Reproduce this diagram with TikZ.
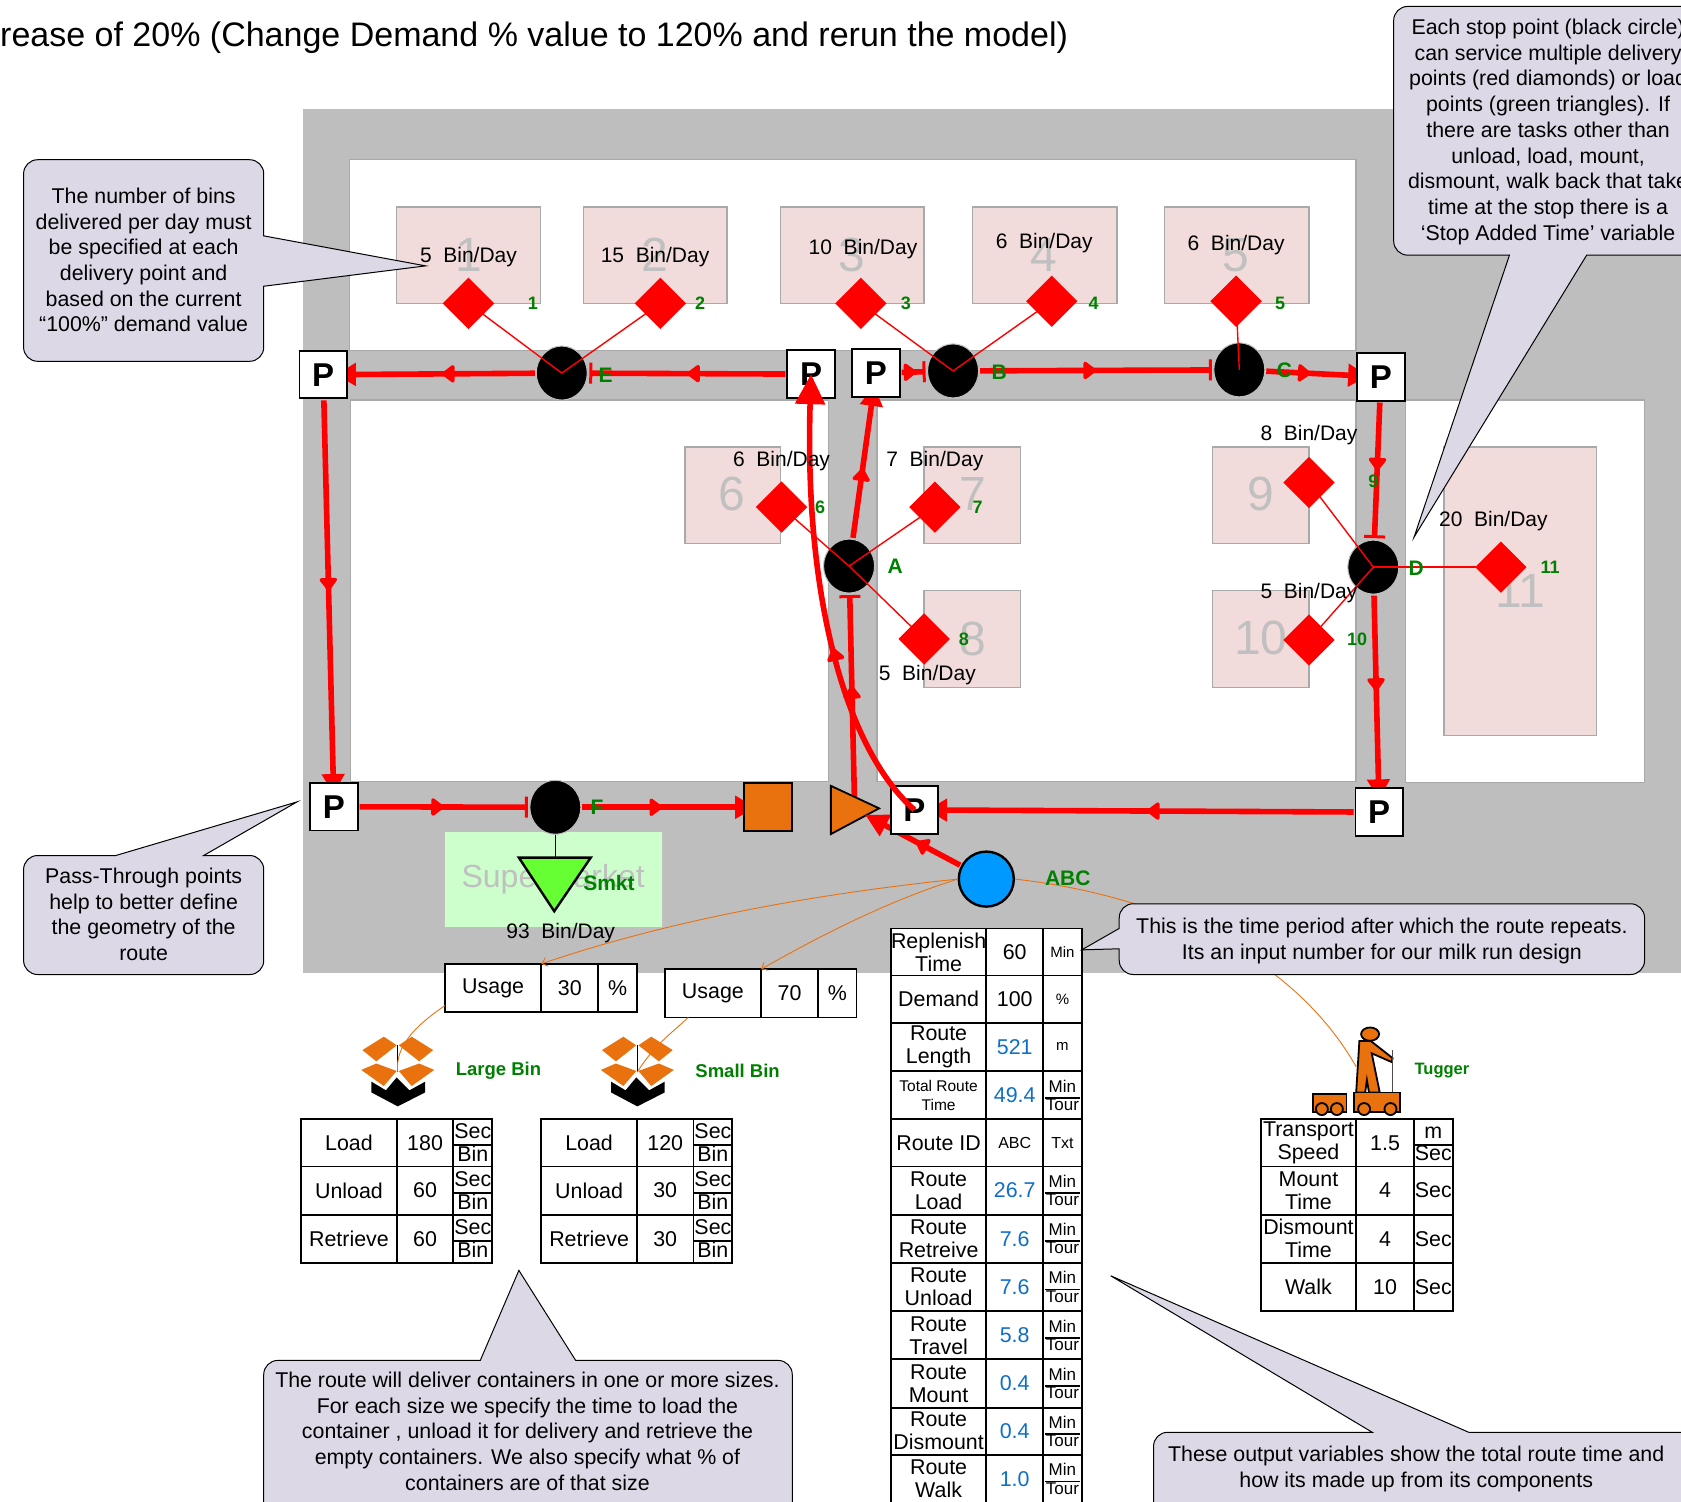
\documentclass[tikz,border=0pt]{standalone}
\usepackage{fontspec}
\setmainfont{Liberation Sans}
\usetikzlibrary{shapes.geometric,arrows.meta,decorations.markings}
\definecolor{panelgray}{HTML}{BEBEBE}
\definecolor{edgegray}{HTML}{A9A9A9}
\definecolor{pinkbox}{HTML}{F2DCDB}
\definecolor{numgray}{HTML}{C0C0C0}
\definecolor{smktfill}{HTML}{CCFFCC}
\definecolor{lblgreen}{HTML}{008000}
\definecolor{orangeb}{HTML}{E9720F}
\definecolor{calloutfill}{HTML}{DCD8E6}
\definecolor{vblue}{HTML}{0F6FC6}
\definecolor{abcblue}{HTML}{0099FF}
\definecolor{smktgreen}{HTML}{66FF33}
\pgfdeclarelayer{bgl}\pgfdeclarelayer{routes}\pgfdeclarelayer{top}\pgfdeclarelayer{lab}
\pgfsetlayers{bgl,routes,main,top,lab}
\newcommand\myfs[1]{\fontsize{#1}{#1}\selectfont}
\newcommand\bv[1]{{\color{vblue}#1}}
\newcommand\ufrac[3]{\fontsize{#1}{#1}\selectfont\setlength\arrayrulewidth{1.8pt}\renewcommand\arraystretch{0.92}\setlength\tabcolsep{1pt}\raisebox{-.13em}[\height][\depth]{\begin{tabular}{c}#2\\\hline #3\end{tabular}}}
\newcommand\mintour{\ufrac{17}{Min}{Tour}}
\newcommand\secbin{\ufrac{21.4}{Sec}{Bin}}
\newcommand\trow[6]{%
 \node[cellbox,minimum width={(\ca-\cz)*1.072pt},minimum height={(#3-#2)*1.072pt}] (#1-l) at ({(\cz+\ca)/2},{(#2+#3)/2}) {#4};
 \node[cellbox,minimum width={(\cy-\ca)*1.072pt},minimum height={(#3-#2)*1.072pt}] (#1-v) at ({(\ca+\cy)/2},{(#2+#3)/2}) {#5};
 \node[cellbox,minimum width={(\cx-\cy)*1.072pt},minimum height={(#3-#2)*1.072pt}] (#1-u) at ({(\cy+\cx)/2},{(#2+#3)/2}) {#6};}
\newcommand\pinkb[4]{\node[pinkcell,minimum width={(#3-#1)*1.072pt},minimum height={(#4-#2)*1.072pt}] at ({(#1+#3)/2},{(#2+#4)/2}) {};}
\tikzset{
 cellbox/.style={draw=black,line width=1.8pt,fill=white,inner sep=0pt,outer sep=0pt,align=center,font=\fontsize{21.4}{23}\selectfont},
 pinkcell/.style={draw=edgegray,line width=1.4pt,fill=pinkbox,inner sep=0pt},
 panelbox/.style={draw=edgegray,line width=1.4pt,fill=white},
 ptnode/.style={draw=black,line width=1.9pt,fill=white,minimum size=47.5pt,inner sep=0pt,font=\fontsize{33}{33}\selectfont\bfseries},
 stopnode/.style={ellipse,draw=black!25,line width=1pt,fill=black,minimum width=51pt,minimum height=54pt,inner sep=0pt},
 dia/.style={diamond,fill=red,minimum width=51.5pt,minimum height=51.5pt,inner sep=0pt,aspect=1},
 grn/.style={text=lblgreen,font=\fontsize{21}{21}\selectfont\bfseries,inner sep=0pt},
 grnsmall/.style={text=lblgreen,font=\fontsize{18}{18}\selectfont\bfseries,inner sep=0pt},
 grntug/.style={text=lblgreen,font=\fontsize{16.5}{16.5}\selectfont\bfseries,inner sep=0pt},
 grnbin/.style={text=lblgreen,font=\fontsize{18.5}{18.5}\selectfont\bfseries,inner sep=0pt},
 numlab/.style={text=numgray,font=\fontsize{48}{48}\selectfont,inner sep=0pt},
 rate/.style={font=\fontsize{21}{21}\selectfont,inner sep=0pt},
 route/.style={draw=red,line width=5.6pt},
 midtip/.style={postaction={decorate,decoration={markings,mark=at position #1 with {\arrow{Triangle[length=14pt,width=20pt,round]}}}}},
 barend/.style={-{Bar[width=21pt,line width=3pt]},shorten >=1.5pt,shorten <=1pt},
 wedgeend/.style={-{Triangle[length=20pt,width=22pt]},shorten >=-12pt,shorten <=1pt},
 thinred/.style={draw=red,line width=1.4pt},
 feed/.style={draw=orangeb,line width=.9pt},
 callout/.style={draw=black,line width=1pt,fill=calloutfill},
 callouttext/.style={align=center,inner sep=0pt,font=\fontsize{21.35}{25.7}\selectfont},
 binicon/.pic={
  \fill[orangeb] (-33,-20.5) -- (-13,-33) -- (-1,-25) -- (-20,-10) -- cycle;
  \fill[orangeb] (33,-20.5) -- (13,-33) -- (1,-25) -- (20,-10) -- cycle;
  \fill[orangeb] (-34,-2) -- (-20,-8) -- (-1,-1) -- (-13,13) -- cycle;
  \fill[orangeb] (34,-2) -- (20,-8) -- (1,-1) -- (13,13) -- cycle;
  \fill[black] (-24.5,9) -- (-11,17) -- (-1,5) -- (11,17) -- (25.5,9) -- (25.5,19) -- (0,32) -- (-24.5,19) -- cycle;
  \draw[black,line width=1.4pt] (0,-25) -- (0,0);
  \coordinate (-c) at (0,0);
 },
}
\begin{document}
\begin{tikzpicture}[x=1.072pt,y=-1.072pt]
\useasboundingbox (0,0) rectangle (1568,1401);
\begin{pgfonlayer}{bgl}
 \fill[panelgray] (283,102) rectangle (1600,907.5);
 \draw[panelbox] (326,149) rectangle (1265,327);
 \draw[panelbox] (327,373) rectangle (773,729);
 \draw[panelbox] (818,373) rectangle (1265,729);
 \draw[panelbox] (1311,373) rectangle (1534,730);
 \pinkb{370}{193}{504}{283}
 \pinkb{544}{193}{678}{283}
 \pinkb{728}{193}{862}{283}
 \pinkb{907}{193}{1042}{283}
 \pinkb{1086}{193}{1221}{283}
 \pinkb{639}{417}{728}{507}
 \pinkb{862}{417}{952}{507}
 \pinkb{862}{551}{952}{641}
 \pinkb{1131}{417}{1221}{507}
 \pinkb{1131}{551}{1221}{641}
 \pinkb{1347}{417}{1489}{686}
 \node[fill=smktfill,draw=numgray,line width=1.4pt,minimum width={204*1.072pt},minimum height={90*1.072pt},inner sep=0pt] (smktbox) at (516.5,820.5) {};
 \node[numlab] (n1) at (437,238) {1};
 \node[numlab] (n2) at (611,238) {2};
 \node[numlab] (n3) at (795,238) {3};
 \node[numlab] (n4) at (974,238) {4};
 \node[numlab] (n5) at (1153,238) {5};
 \node[numlab] (n6) at (683,461) {6};
 \node[numlab] (n7) at (907,461) {7};
 \node[numlab] (n8) at (907,596) {8};
 \node[numlab] (n9) at (1176,461) {9};
 \node[numlab] (n10) at (1176,595) {10};
 \node[numlab] (n11) at (1418,551) {11};
 \node[text=numgray,font=\fontsize{32}{32}\selectfont,inner sep=0pt] (smkttext) at (516,820) {Supermarket};
\end{pgfonlayer}

% nodes
\node[ptnode] (P1) at (301.5,349.5) {P};
\node[ptnode] (P2) at (756.5,349) {P};
\node[ptnode] (P3) at (817,348) {P};
\node[ptnode] (P4) at (1288,351.5) {P};
\node[ptnode] (P5) at (311.5,752.5) {P};
\node[ptnode] (P6) at (853,755.5) {P};
\node[ptnode] (P7) at (1286.5,757.5) {P};
\node[stopnode] (E) at (524,348) {};
\node[stopnode] (B) at (889,346) {};
\node[stopnode] (C) at (1156,345) {};
\node[stopnode] (A) at (792,528) {};
\node[stopnode] (D) at (1281,529) {};
\node[stopnode] (F) at (518,753) {};
\node[draw=black,line width=1.9pt,fill=orangeb,minimum size=48pt,inner sep=0pt] (sq) at (716.5,753) {};
\node[circle,draw=black,line width=2.4pt,fill=abcblue,minimum size=55pt,inner sep=0pt] (ABC) at (920,820) {};
\node[dia] (d1) at (437,283) {};
\node[dia] (d2) at (616,283) {};
\node[dia] (d3) at (803,283) {};
\node[dia] (d4) at (981,281) {};
\node[dia] (d5) at (1153,281) {};
\node[dia] (d6) at (729,473) {};
\node[dia] (d7) at (872,473) {};
\node[dia] (d8) at (862,596) {};
\node[dia] (d9) at (1221,450) {};
\node[dia] (d10) at (1221,597) {};
\node[dia] (d11) at (1400,529) {};
\coordinate (triapex) at (820,754);
\coordinate (triedge) at (807,760);
\coordinate (tritop) at (797,745);
\coordinate (smkttop) at (518,800);

% routes
\begin{pgfonlayer}{routes}
 \draw[route,wedgeend,midtip=.5] (E) -- (P1);
 \draw[route,barend,midtip=.5] (P2) -- (E);
 \draw[route,barend,midtip=.6] (P3) -- (B);
 \draw[route,barend,midtip=.5] (B) -- (C);
 \draw[route,wedgeend,midtip=.5] (C) -- (P4);
 \draw[route,barend,midtip=.5] (P4) -- (D);
 \draw[route,wedgeend,midtip=.5] (D) -- (P7);
 \draw[route,wedgeend,midtip=.5] (P1) -- (P5);
 \draw[route,barend,midtip=.5] (P5) -- (F);
 \draw[route,wedgeend,midtip=.5] (F) -- (sq);
 \draw[route,wedgeend,midtip=.5] (P7) -- (P6);
 \draw[route,barend,midtip=.55] (tritop) -- (A);
 \draw[route,wedgeend,midtip=.5] (A) -- (P3);
 \draw[draw=black,line width=1.8pt,fill=orangeb] (775,733) -- (triapex) -- (775,778) -- cycle;
 \draw[route,-{Triangle[length=23pt,width=23pt]},midtip=.47,shorten <=1pt] (ABC) -- (triedge);
\end{pgfonlayer}

% feed lines
\draw[feed] (ABC.east) .. controls (1080,835) and (1205,890) .. (1265,995);

% usage
\coordinate (u2s) at (642,949);
\def\cz{415}\def\ca{505}\def\cy{558}\def\cx{594}
\trow{ua}{899}{944}{Usage}{30}{\%}
\def\cz{620}\def\ca{710}\def\cy{763}\def\cx{799}
\trow{ub}{904}{949}{Usage}{70}{\%}
\draw[feed,-{Straight Barb[length=5pt,width=9pt]}] (ABC.west) .. controls (750,835) and (620,860) .. (ua-l.north east);
\draw[feed,-{Straight Barb[length=5pt,width=9pt]}] (ABC.west) .. controls (830,840) and (770,870) .. (ub-l.north east);

% green triangle
\draw[black,line width=1.4pt] (F) -- (smkttop);
\draw[draw=black,line width=2.4pt,fill=smktgreen] (484,800) -- (551,800) -- (517,850) -- cycle;

% bin icons
\pic (lb) at (371,1000) {binicon};
\pic (sb) at (594.5,1000) {binicon};
\draw[feed] (ua-l.south west) ++(0,-6) .. controls (390,955) and (368,975) .. (lb-c);
\draw[feed] (u2s) .. controls (625,965) and (610,975) .. (sb-c);

% tables
\def\cz{281}\def\ca{370}\def\cy{423}\def\cx{459}
\trow{la}{1044}{1088}{Load}{180}{\secbin}
\trow{lb}{1088}{1133}{Unload}{60}{\secbin}
\trow{lc}{1133}{1178}{Retrieve}{60}{\secbin}
\def\cz{505}\def\ca{594}\def\cy{647}\def\cx{683}
\trow{sa}{1044}{1088}{Load}{120}{\secbin}
\trow{sb}{1088}{1133}{Unload}{30}{\secbin}
\trow{sc}{1133}{1178}{Retrieve}{30}{\secbin}
\def\cz{1176}\def\ca{1265}\def\cy{1319}\def\cx{1355}
\trow{ta}{1044}{1088}{Transport\\Speed}{1.5}{\ufrac{21.4}{m}{Sec}}
\trow{tb}{1088}{1133}{Mount\\Time}{4}{Sec}
\trow{tc}{1133}{1178}{Dismount\\Time}{4}{Sec}
\trow{td}{1178}{1223}{Walk}{10}{Sec}
\def\cz{831}\def\ca{920}\def\cy{973}\def\cx{1009}
\trow{ma}{866}{910}{Replenish\\Time}{60}{\myfs{15}Min}
\trow{mb}{910}{954}{Demand}{100}{\myfs{15}\%}
\trow{mc}{954}{999}{Route\\Length}{\bv{521}}{\myfs{15}m}
\trow{md}{999}{1044}{\fontsize{15.5}{17}\selectfont Total Route\\[-4pt]\fontsize{15.5}{17}\selectfont Time}{\bv{49.4}}{\mintour}
\trow{me}{1044}{1088}{Route ID}{\myfs{16}ABC}{\myfs{16}Txt}
\trow{mf}{1088}{1133}{Route\\Load}{\bv{26.7}}{\mintour}
\trow{mg}{1133}{1178}{Route\\Retreive}{\bv{7.6}}{\mintour}
\trow{mh}{1178}{1223}{Route\\Unload}{\bv{7.6}}{\mintour}
\trow{mi}{1223}{1268}{Route\\Travel}{\bv{5.8}}{\mintour}
\trow{mj}{1268}{1313}{Route\\Mount}{\bv{0.4}}{\mintour}
\trow{mk}{1313}{1357}{Route\\Dismount}{\bv{0.4}}{\mintour}
\trow{ml}{1357}{1402}{Route\\Walk}{\bv{1.0}}{\mintour}

% tugger
\begin{scope}[draw=black,line width=1.8pt]
 \draw[fill=orangeb] (1278,964.6) ellipse (8.4 and 6.2);
 \draw[fill=orangeb] (1268,971) -- (1278.6,971) -- (1299,987) -- (1298,990.6) -- (1279.5,982.5) -- (1287,1019) -- (1277,1019) -- (1275,1007.5) -- (1273.4,1019) -- (1265,1019) -- cycle;
 \draw[line width=1.2pt,draw=black!70] (1299,979.5) -- (1299,1019);
 \draw[fill=orangeb] (1263,1019) rectangle (1306,1037);
 \draw[fill=orangeb] (1272.4,1034.5) circle (5.6);
 \draw[fill=orangeb] (1297,1034.5) circle (5.6);
 \draw[fill=orangeb] (1224.5,1020.5) rectangle (1256,1037);
 \draw[fill=orangeb] (1233,1034.5) circle (5.6);
 \draw[fill=orangeb] (1247,1034.5) circle (5.6);
\end{scope}

% stop connectors and the long curved route
\begin{pgfonlayer}{top}
 \draw[thinred] (d1.center) -- (E.center);
 \draw[thinred] (d2.center) -- (E.center);
 \draw[thinred] (d3.center) -- (B.center);
 \draw[thinred] (d4.center) -- (B.center);
 \draw[thinred] (d5.center) -- (C.center);
 \draw[thinred] (d6.center) -- (A.center);
 \draw[thinred] (d7.center) -- (A.center);
 \draw[thinred] (d8.center) -- (A.center);
 \draw[thinred] (d9.center) -- (D.center);
 \draw[thinred] (d10.center) -- (D.center);
 \draw[thinred] (d11.center) -- (D.center);
 \draw[route,-{Triangle[length=30pt,width=29pt]},midtip=.4] (P6.center) .. controls (790,700) and (750,560) .. (P2.center);
\end{pgfonlayer}

% labels and callouts
\begin{pgfonlayer}{lab}
 \node[grn] (lE) at (565,350) {E};
 \node[grn] (lB) at (932,347) {B};
 \node[grn] (lC) at (1198,345) {C};
 \node[grn] (lA) at (835,528) {A};
 \node[grn] (lD) at (1321,530) {D};
 \node[grn] (lF) at (557,753) {F};
 \node[grn] (lS) at (568,824) {Smkt};
 \node[grn] (lABC) at (996,819) {ABC};
 \node[grnbin] (lLB) at (465,999) {Large Bin};
 \node[grnbin] (lSB) at (688,999) {Small Bin};
 \node[grntug] (lTug) at (1345,999) {Tugger};
 \node[grnsmall] (g1) at (497,283) {1};
 \node[grnsmall] (g2) at (653,283) {2};
 \node[grnsmall] (g3) at (845,283) {3};
 \node[grnsmall] (g4) at (1020,283) {4};
 \node[grnsmall] (g5) at (1194,283) {5};
 \node[grnsmall] (g6) at (765,473) {6};
 \node[grnsmall] (g7) at (912,473) {7};
 \node[grnsmall] (g8) at (899,596) {8};
 \node[grnsmall] (g9) at (1281,449) {9};
 \node[grnsmall] (g10) at (1266,596) {10};
 \node[grnsmall] (g11) at (1446,529) {11};
 % callouts
 \draw[callout,rounded corners=14] (246,220) -- (246,149) -- (22,149) -- (22,337) -- (246,337) [sharp corners] -- (246,267) -- (397,248) -- cycle;
 \draw[callout,rounded corners=14] (108,798) -- (22,798) -- (22,909) -- (246,909) -- (246,798) [sharp corners] -- (190,798) -- (277,748) -- cycle;
 \draw[callout,rounded corners=14] (1408,238) -- (1300,238) -- (1300,6) -- (1620,6) -- (1620,238) [sharp corners] -- (1480,238) -- (1319,501) -- cycle;
 \draw[callout,rounded corners=14] (1044,866) -- (1044,843) -- (1534,843) -- (1534,909) -- (1044,909) [sharp corners] -- (1044,885) -- (1009,886) -- cycle;
 \draw[callout,rounded corners=14] (448,1269) -- (246,1269) -- (246,1460) -- (739,1460) -- (739,1269) [sharp corners] -- (537,1269) -- (484,1185) -- cycle;
 \draw[callout,rounded corners=14] (1280,1336) -- (1076,1336) -- (1076,1460) -- (1620,1460) -- (1620,1336) [sharp corners] -- (1370,1336) -- (1036,1190) -- cycle;
 \node[callouttext] (ct1) at (134,242.5) {The number of bins\\delivered per day must\\be specified at each\\delivery point and\\based on the current\\“100\%” demand value};
 \node[callouttext] (ct2) at (134,853) {Pass-Through points\\help to better define\\the geometry of the\\route};
 \node[callouttext] (ct3) at (1444,123) {Each stop point (black circle)\\can service multiple delivery\\points (red diamonds) or load\\points (green triangles). If\\there are tasks other than\\unload, load, mount,\\dismount, walk back that take\\time at the stop there is a\\‘Stop Added Time’ variable};
 \node[callouttext] (ct4) at (1289,878) {This is the time period after which the route repeats.\\Its an input number for our milk run design};
 \node[callouttext] (ct5) at (492,1335) {The route will deliver containers in one or more sizes.\\For each size we specify the time to load the\\container , unload it for delivery and retrieve the\\empty containers. We also specify what \% of\\containers are of that size};
 \node[callouttext] (ct6) at (1321,1370) {These output variables show the total route time and\\how its made up from its components};
 % rates
 \node[rate] (r1) at (437,240) {5\ \ Bin/Day};
 \node[rate] (r2) at (611,240) {15\ \ Bin/Day};
 \node[rate] (r3) at (805,232) {10\ \ Bin/Day};
 \node[rate] (r4) at (974,227) {6\ \ Bin/Day};
 \node[rate] (r5) at (1153,229) {6\ \ Bin/Day};
 \node[rate] (r6) at (729,430) {6\ \ Bin/Day};
 \node[rate] (r7) at (872,430) {7\ \ Bin/Day};
 \node[rate] (r8) at (865,630) {5\ \ Bin/Day};
 \node[rate] (r9) at (1221,406) {8\ \ Bin/Day};
 \node[rate] (r10) at (1221,553) {5\ \ Bin/Day};
 \node[rate] (r11) at (1393,486) {20\ \ Bin/Day};
 \node[rate] (r12) at (523,870) {93\ \ Bin/Day};
 \node[anchor=west,inner sep=0pt,font=\fontsize{34}{34}\selectfont] (title) at (0,35) {rease of 20\% (Change Demand \% value to 120\% and rerun the model)};
\end{pgfonlayer}
\end{tikzpicture}
\end{document}
